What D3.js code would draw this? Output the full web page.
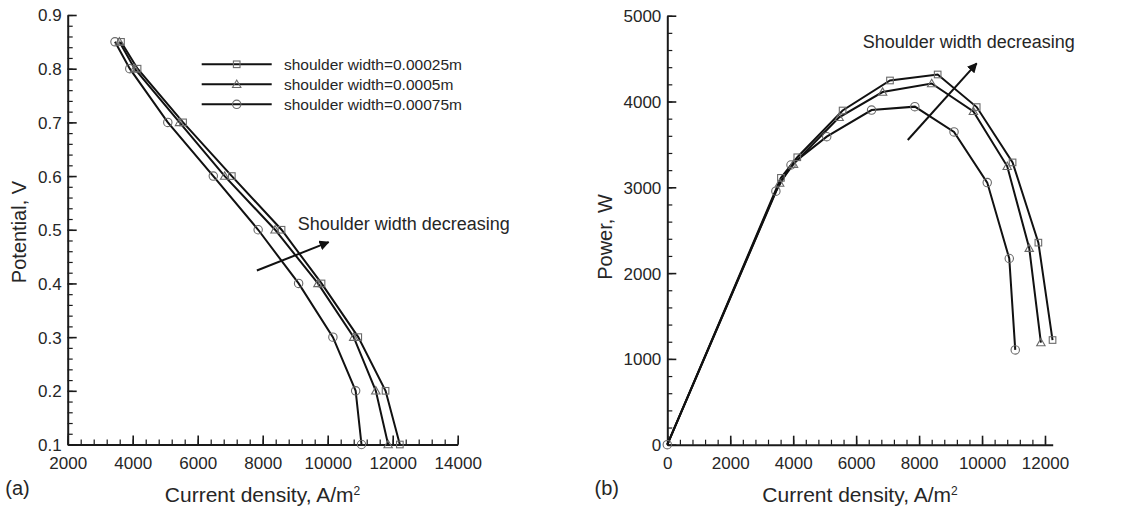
<!DOCTYPE html>
<html>
<head>
<meta charset="utf-8">
<script src="https://cdn.jsdelivr.net/npm/d3@7"></script>
<style>
  body { margin: 0; background: #fff; }
  svg text { font-family: "Liberation Sans", Arial, sans-serif; fill: #262626; }
  .axis path, .axis line { stroke: #1a1a1a; }
  .axis path { stroke-width: 2; }
  .axis .tick line { stroke-width: 1.6; }
  .minor .tick line { stroke-width: 1.2; }
  .axis text { font-size: 17px; fill: #262626; }
</style>
</head>
<body>
<div id="chart"></div>
<script>
// polarization data: cell potential vs current density, three shoulder widths
var potential = [0.85, 0.8, 0.7, 0.6, 0.5, 0.4, 0.3, 0.2, 0.1];
var currentSq  = [3640, 4150, 5550, 7050, 8580, 9810, 10940, 11780, 12220];
var currentTri = [3590, 4060, 5440, 6830, 8380, 9700, 10800, 11480, 11860];
var currentCir = [3455, 3910, 5080, 6480, 7860, 9105, 10160, 10860, 11040];

// power curves (panel b), starting at the origin
var currentSqB  = [0, 3610, 4130, 5570, 7075, 8590, 9830, 10970, 11790, 12240];
var powerSq     = [0, 3110, 3350, 3895, 4245, 4315, 3935, 3290, 2355, 1220];
var currentTriB = [0, 3570, 4010, 5460, 6840, 8400, 9725, 10800, 11500, 11870];
var powerTri    = [0, 3050, 3270, 3815, 4110, 4210, 3885, 3245, 2290, 1190];
var currentCirB = [0, 3450, 3930, 5065, 6490, 7865, 9110, 10165, 10865, 11055];
var powerCir    = [0, 2955, 3260, 3590, 3900, 3940, 3645, 3055, 2170, 1105];

var seriesNames = ["shoulder width=0.00025m", "shoulder width=0.0005m", "shoulder width=0.00075m"];
var markerTypes = ["square", "triangle", "circle"];

var xTicksA = [2000, 4000, 6000, 8000, 10000, 12000, 14000];
var yTicksA = [0.1, 0.2, 0.3, 0.4, 0.5, 0.6, 0.7, 0.8, 0.9];
var xTicksB = [0, 2000, 4000, 6000, 8000, 10000, 12000];
var yTicksB = [0, 1000, 2000, 3000, 4000, 5000];

var width = 1125, height = 513;

var svg = d3.select("#chart").append("svg")
  .attr("width", width)
  .attr("height", height);

svg.append("defs").append("marker")
  .attr("id", "arrow")
  .attr("viewBox", "0 0 10 10")
  .attr("refX", 9).attr("refY", 5)
  .attr("markerWidth", 5).attr("markerHeight", 5)
  .attr("orient", "auto")
  .append("path")
  .attr("d", "M0,0 L10,5 L0,10 z")
  .attr("fill", "#111");

function range(a, b, step) {
  var out = [];
  for (var v = a; v <= b + step * 1e-6; v += step) out.push(+v.toFixed(6));
  return out;
}

function drawMarker(g, type, cx, cy) {
  var m;
  if (type === "square") {
    m = g.append("rect").attr("x", cx - 3.3).attr("y", cy - 3.3)
      .attr("width", 6.6).attr("height", 6.6);
  } else if (type === "triangle") {
    m = g.append("path")
      .attr("d", "M" + cx + "," + (cy - 4.2) + " L" + (cx + 4.2) + "," + (cy + 3.2) +
                 " L" + (cx - 4.2) + "," + (cy + 3.2) + " Z");
  } else {
    m = g.append("circle").attr("cx", cx).attr("cy", cy).attr("r", 4.2);
  }
  m.attr("fill", "none").attr("stroke", "#6a6a6a").attr("stroke-width", 1.1);
}

// axis builder: major + minor ticks pointing into the plot
function addAxes(x, y, xMajor, xMinor, yMajor, yMinor, yFmt) {
  var bottom = svg.append("g").attr("class", "axis")
    .attr("transform", "translate(0," + y.range()[0] + ")")
    .call(d3.axisBottom(x).tickValues(xMajor).tickSizeInner(-9).tickSizeOuter(0)
      .tickPadding(8).tickFormat(d3.format("d")));
  svg.append("g").attr("class", "axis minor")
    .attr("transform", "translate(0," + y.range()[0] + ")")
    .call(d3.axisBottom(x).tickValues(xMinor).tickSizeInner(-5).tickSizeOuter(0)
      .tickFormat(""))
    .select(".domain").remove();

  var left = svg.append("g").attr("class", "axis")
    .attr("transform", "translate(" + x.range()[0] + ",0)")
    .call(d3.axisLeft(y).tickValues(yMajor).tickSizeInner(-9).tickSizeOuter(0)
      .tickPadding(6).tickFormat(yFmt));
  svg.append("g").attr("class", "axis minor")
    .attr("transform", "translate(" + x.range()[0] + ",0)")
    .call(d3.axisLeft(y).tickValues(yMinor).tickSizeInner(-5).tickSizeOuter(0)
      .tickFormat(""))
    .select(".domain").remove();
  bottom.selectAll("text").attr("dy", "0.95em");
  left.selectAll("text").attr("dy", "0.35em");
}

function xTitle(cx, label) {
  var t = svg.append("text")
    .attr("x", cx).attr("y", 502)
    .attr("text-anchor", "middle")
    .style("font-size", "21px")
    .text(label);
  t.append("tspan").attr("dy", "-0.55em").style("font-size", "12px").text("2");
}

function yTitle(cx, cy, label) {
  svg.append("text")
    .attr("x", cx).attr("y", cy)
    .attr("transform", "rotate(-90," + cx + "," + cy + ")")
    .attr("text-anchor", "middle")
    .style("font-size", "20px")
    .text(label);
}

function drawLine(g, xs, ys, x, y) {
  var pts = xs.map(function(d, i) { return [x(d), y(ys[i])]; });
  g.append("path")
    .attr("d", d3.line()(pts))
    .attr("fill", "none")
    .attr("stroke", "#111")
    .attr("stroke-width", 2);
  return pts;
}

function arrow(x1, y1, x2, y2) {
  svg.append("line")
    .attr("x1", x1).attr("y1", y1).attr("x2", x2).attr("y2", y2)
    .attr("stroke", "#111").attr("stroke-width", 2)
    .attr("marker-end", "url(#arrow)");
}

/* ---------- panel (a): potential ---------- */
var xA = d3.scaleLinear().domain([2000, 14000]).range([67.7, 457.7]);
var yA = d3.scaleLinear().domain([0.1, 0.9]).range([444.5, 15]);

addAxes(xA, yA, xTicksA, range(2000, 14000, 400), yTicksA, range(0.1, 0.9, 0.02), d3.format(".1f"));

var gA = svg.append("g");
var curvesA = [currentSq, currentTri, currentCir];
var ptsA = curvesA.map(function(c) { return drawLine(gA, c, potential, xA, yA); });
ptsA.forEach(function(pts, s) {
  pts.forEach(function(p) { drawMarker(gA, markerTypes[s], p[0], p[1]); });
});

// legend
var legend = svg.append("g");
seriesNames.forEach(function(name, i) {
  var ly = 64.3 + i * 20;
  legend.append("line")
    .attr("x1", 201.7).attr("x2", 271.7).attr("y1", ly).attr("y2", ly)
    .attr("stroke", "#111").attr("stroke-width", 2);
  drawMarker(legend, markerTypes[i], 236.7, ly);
  legend.append("text")
    .attr("x", 284).attr("y", ly).attr("dy", "0.35em")
    .style("font-size", "15.5px")
    .text(name);
});

arrow(xA(7821), yA(0.424), xA(10029), yA(0.477));
svg.append("text")
  .attr("x", 297.7).attr("y", 229.5)
  .style("font-size", "18px")
  .text("Shoulder width decreasing");

yTitle(26, 232, "Potential, V");
xTitle(262.5, "Current density, A/m");
svg.append("text").attr("x", 17.5).attr("y", 495).attr("text-anchor", "middle")
  .style("font-size", "20px").text("(a)");

/* ---------- panel (b): power ---------- */
var xB = d3.scaleLinear().domain([0, 12245]).range([667.3, 1052.7]);
var yB = d3.scaleLinear().domain([0, 5000]).range([444.7, 15.7]);

addAxes(xB, yB, xTicksB, range(0, 12000, 400), yTicksB, range(0, 5000, 200), d3.format("d"));

var gB = svg.append("g");
var curvesB = [[currentSqB, powerSq], [currentTriB, powerTri], [currentCirB, powerCir]];
var ptsB = curvesB.map(function(c) { return drawLine(gB, c[0], c[1], xB, yB); });
ptsB.forEach(function(pts, s) {
  pts.forEach(function(p, i) {
    if (i === 0 && s < 2) return;
    drawMarker(gB, markerTypes[s], p[0], p[1]);
  });
});

arrow(xB(7640), yB(3551), xB(9830), yB(4445));
svg.append("text")
  .attr("x", 862.7).attr("y", 48)
  .style("font-size", "18px")
  .text("Shoulder width decreasing");

yTitle(612, 237, "Power, W");
xTitle(860, "Current density, A/m");
svg.append("text").attr("x", 606.7).attr("y", 495).attr("text-anchor", "middle")
  .style("font-size", "20px").text("(b)");
</script>
</body>
</html>
